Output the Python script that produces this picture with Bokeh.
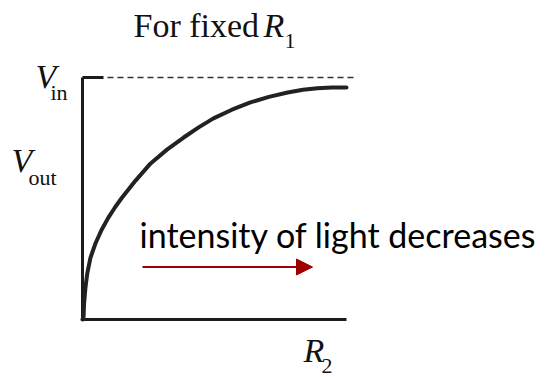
from bokeh.plotting import figure
from bokeh.models import Arrow, NormalHead
from bokeh.core.properties import value
from bokeh.embed import file_html
from bokeh.resources import INLINE

# ---- data (normalised units: R2 axis 0..1, Vout axis 0..1, Vin = 1) ----
r2 = [0.0, 0.002, 0.004, 0.006, 0.011, 0.018, 0.030, 0.049, 0.072, 0.098,
      0.124, 0.150, 0.201, 0.258, 0.320, 0.383, 0.440, 0.496, 0.566, 0.636,
      0.706, 0.777, 0.835, 0.890, 0.945, 1.0]
vout = [0.0, 0.005, 0.012, 0.066, 0.130, 0.190, 0.255, 0.314, 0.370, 0.421,
        0.465, 0.504, 0.574, 0.645, 0.702, 0.752, 0.794, 0.831, 0.867, 0.897,
        0.920, 0.938, 0.949, 0.956, 0.959, 0.959]
v_in = 1.0
title_text = "For fixed"
title_var = "R"
title_sub = "1"
y_top_label = ("V", "in")
y_mid_label = ("V", "out")
x_label = ("R", "2")
note_text = "intensity of light decreases"

W, H = 547, 377
px0, px1 = 82, 346      # page-pixel position of R2 = 0 and R2 = 1
py0, py1 = 319, 77      # page-pixel position of Vout = 0 and Vout = Vin
sx = (px1 - px0)
sy = (py0 - py1)
x_start = -px0 / sx
x_end = (W - px0) / sx
y_start = -(H - py0) / sy
y_end = v_in + py1 / sy


def X(px):
    return (px - px0) / sx


def Y(py):
    return (py0 - py) / sy


p = figure(width=W, height=H, x_range=(x_start, x_end), y_range=(y_start, y_end),
           x_axis_type=None, y_axis_type=None, toolbar_location=None,
           output_backend="svg", min_border=0, outline_line_color=None,
           background_fill_color="white", border_fill_color="white")
p.grid.visible = False

ink = "#1c1c1c"

# axes drawn as lines
p.line([0, 0], [0, v_in], line_color=ink, line_width=3)
p.line([0, 1], [0, 0], line_color=ink, line_width=3)
p.line([0, X(103)], [v_in, v_in], line_color=ink, line_width=3)
p.line([X(107), X(355)], [v_in, v_in], line_color="#333333", line_width=1.5,
       line_dash="6 4")

# curve
p.line(r2, vout, line_color="#222222", line_width=4, line_join="round",
       line_cap="round")

serif = value("Liberation Serif")
tc = "#111111"
big, small = "34px", "22px"
db, ds = 12, 8   # baseline corrections for big / small serif text

# title
p.text(x=[X(133)], y=[Y(37 - db)], text=[title_text], text_font=serif,
       text_font_size=big, text_color=tc, text_baseline="alphabetic")
p.text(x=[X(263)], y=[Y(37 - db)], text=[title_var], text_font=serif,
       text_font_style="italic", text_font_size=big, text_color=tc,
       text_baseline="alphabetic")
p.text(x=[X(284)], y=[Y(48 - ds)], text=[title_sub], text_font=serif,
       text_font_size=small, text_color=tc, text_baseline="alphabetic")

# V_in
p.text(x=[X(35)], y=[Y(88 - db)], text=[y_top_label[0]], text_font=serif,
       text_font_style="italic", text_font_size=big, text_color=tc,
       text_baseline="alphabetic")
p.text(x=[X(50)], y=[Y(100 - ds)], text=[y_top_label[1]], text_font=serif,
       text_font_size=small, text_color=tc, text_baseline="alphabetic")

# V_out
p.text(x=[X(11)], y=[Y(172 - db)], text=[y_mid_label[0]], text_font=serif,
       text_font_style="italic", text_font_size=big, text_color=tc,
       text_baseline="alphabetic")
p.text(x=[X(28)], y=[Y(185 - ds)], text=[y_mid_label[1]], text_font=serif,
       text_font_size=small, text_color=tc, text_baseline="alphabetic")

# R_2
p.text(x=[X(303)], y=[Y(362 - db)], text=[x_label[0]], text_font=serif,
       text_font_style="italic", text_font_size=big, text_color=tc,
       text_baseline="alphabetic")
p.text(x=[X(321)], y=[Y(373 - ds)], text=[x_label[1]], text_font=serif,
       text_font_size=small, text_color=tc, text_baseline="alphabetic")

# annotation
p.text(x=[X(139)], y=[Y(247 - 13)], text=[note_text], text_font=value("Lato"),
       text_font_size="34px", text_color="#000000", text_baseline="alphabetic")

red = "#A00000"
p.add_layout(Arrow(end=NormalHead(size=16, fill_color=red, line_color=red),
                   x_start=X(142), y_start=Y(266.5), x_end=X(312), y_end=Y(266.5),
                   line_color=red, line_width=2))

open("out.html", "w").write(file_html(p, INLINE))
